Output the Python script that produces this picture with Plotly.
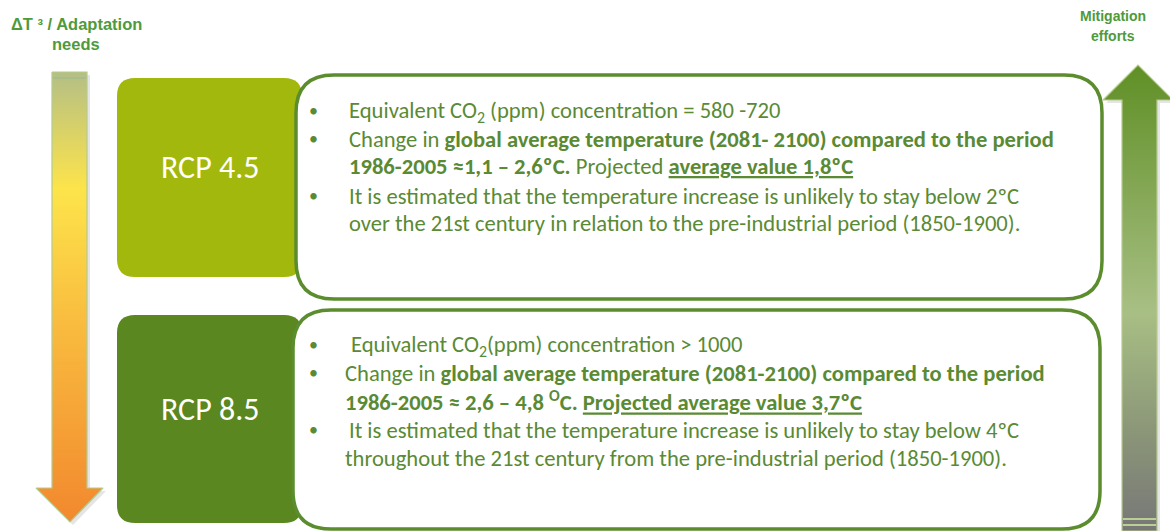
import plotly.graph_objects as go

# ---------------- data (text content) ----------------
header_left = ["ΔT ³ / Adaptation", "needs"]
header_right = ["Mitigation", "efforts"]
scenarios = ["RCP 4.5", "RCP 8.5"]

rcp45_lines = [
    "Equivalent CO<sub>2</sub> (ppm) concentration = 580 -720",
    "Change in <b>global average temperature (2081- 2100) compared to the period</b>",
    "<b>1986-2005 ≈1,1 – 2,6ºC.</b> Projected <b><u>average value 1,8ºC</u></b>",
    "It is estimated that the temperature increase is unlikely to stay below 2ºC",
    "over the 21st century in relation to the pre-industrial period (1850-1900).",
]
rcp45_bullets = [True, True, False, True, False]

rcp85_lines = [
    "Equivalent CO<sub>2</sub>(ppm) concentration > 1000",
    "Change in <b>global average temperature (2081-2100) compared to the period</b>",
    "<b>1986-2005 ≈ 2,6 – 4,8 <sup>O</sup>C.</b> <b><u>Projected average value 3,7ºC</u></b>",
    "It is estimated that the temperature increase is unlikely to stay below 4ºC",
    "throughout the 21st century from the pre-industrial period (1850-1900).",
]
rcp85_bullets = [True, True, False, True, False]

# ---------------- layout / style ----------------
W, H = 1170, 531
GREEN_TXT = "#5a8a34"
BORDER = "#5b8c2e"
HEAD_TXT = "#4f9a3a"
BOX_COLORS = ["#a3b80c", "#5a871f"]
BODY_FONT = "Carlito, Lato, sans-serif"
BODY_SIZE = 22.6

fig = go.Figure()


def rr(x0, y0, x1, y1, r):
    return (f"M{x0+r},{y0} L{x1-r},{y0} Q{x1},{y0} {x1},{y0+r} "
            f"L{x1},{y1-r} Q{x1},{y1} {x1-r},{y1} L{x0+r},{y1} "
            f"Q{x0},{y1} {x0},{y1-r} L{x0},{y0+r} Q{x0},{y0} {x0+r},{y0} Z")


# left arrow (down) : shadow + gradient body
la_x = [52, 87, 87, 103, 70, 36, 52, 52]
la_y = [72, 72, 488, 488, 522, 488, 488, 72]
fig.add_trace(go.Scatter(x=[v + 3 for v in la_x], y=[v + 3 for v in la_y], fill="toself",
                         mode="lines", line=dict(width=0), fillcolor="rgba(0,0,0,0.10)",
                         hoverinfo="skip", showlegend=False))
fig.add_trace(go.Scatter(
    x=la_x, y=la_y, fill="toself", mode="lines",
    line=dict(color="#b5cc8c", width=1.2),
    fillgradient=dict(type="vertical", start=72, stop=522,
                      colorscale=[[0, "#b4bf86"], [0.26, "#fde44b"], [0.55, "#f9bd3f"],
                                  [1, "#f2882e"]]),
    hoverinfo="skip", showlegend=False))
# faint band at top of the left arrow
fig.add_shape(type="line", x0=53, x1=86, y0=78, y1=78, line=dict(color="#a9bd8a", width=2))

# right arrow (up)
ra_x = [1122, 1122, 1103, 1138, 1173, 1157, 1157, 1122]
ra_y = [531, 100, 100, 65, 100, 100, 531, 531]
fig.add_trace(go.Scatter(x=[v + 3 for v in ra_x], y=[v + 3 for v in ra_y], fill="toself",
                         mode="lines", line=dict(width=0), fillcolor="rgba(0,0,0,0.10)",
                         hoverinfo="skip", showlegend=False))
fig.add_trace(go.Scatter(
    x=ra_x, y=ra_y, fill="toself", mode="lines",
    line=dict(color="#b5cc8c", width=1.2),
    fillgradient=dict(type="vertical", start=65, stop=531,
                      colorscale=[[0, "#5f8f25"], [0.53, "#a8bf84"], [0.8, "#8a9478"],
                                  [1, "#777777"]]),
    hoverinfo="skip", showlegend=False))

shapes = list(fig.layout.shapes)
# scenario boxes
box_y = [(78, 277), (315, 523)]
for (y0, y1), c in zip(box_y, BOX_COLORS):
    shapes.append(dict(type="path", path=rr(117, y0, 302, y1, 18), fillcolor=c,
                       line=dict(width=0), layer="above"))
# white info boxes
info_y = [(75, 299), (310, 529)]
info_x = [(296, 1102), (293, 1100)]
for (x0, x1), (y0, y1) in zip(info_x, info_y):
    shapes.append(dict(type="path", path=rr(x0, y0, x1, y1, 38), fillcolor="white",
                       line=dict(color=BORDER, width=3.5), layer="above"))
# bottom stripes of the right arrow
for yy in (519, 525):
    shapes.append(dict(type="line", x0=1123, x1=1156, y0=yy, y1=yy,
                       line=dict(color="#b9cf93", width=2)))

annotations = []
# headers
for i, t in enumerate(header_left):
    annotations.append(dict(x=76, y=24 + 20 * i, text=f"<b>{t}</b>", showarrow=False,
                            font=dict(family="Liberation Sans, Arial", size=16.5, color=HEAD_TXT),
                            xanchor="center", yanchor="middle"))
for i, t in enumerate(header_right):
    annotations.append(dict(x=1113, y=16 + 20 * i, text=f"<b>{t}</b>", showarrow=False,
                            font=dict(family="Liberation Sans, Arial", size=14, color=HEAD_TXT),
                            xanchor="center", yanchor="middle"))
# scenario labels
for name, (y0, y1) in zip(scenarios, box_y):
    annotations.append(dict(x=210, y=(y0 + y1) / 2 - 10, text=name, showarrow=False,
                            font=dict(family=BODY_FONT, size=32, color="white"),
                            xanchor="center", yanchor="middle"))

# body lines
line_y = [[111, 139, 166, 196, 223], [345, 373, 401, 430, 458]]
line_x = [[347, 347, 347, 347, 347], [349, 343, 343, 347, 343]]
for lines, bullets, ys, xs in zip([rcp45_lines, rcp85_lines], [rcp45_bullets, rcp85_bullets],
                                  line_y, line_x):
    for t, b, y, x in zip(lines, bullets, ys, xs):
        annotations.append(dict(x=x, y=y, text=t, showarrow=False,
                                font=dict(family=BODY_FONT, size=BODY_SIZE, color=GREEN_TXT),
                                xanchor="left", yanchor="middle"))
        if b:
            annotations.append(dict(x=313, y=y, text="•", showarrow=False,
                                    font=dict(family=BODY_FONT, size=18, color=GREEN_TXT),
                                    xanchor="center", yanchor="middle"))

fig.update_layout(
    width=W, height=H, margin=dict(l=0, r=0, t=0, b=0),
    paper_bgcolor="white", plot_bgcolor="white",
    xaxis=dict(range=[0, W], visible=False, fixedrange=True),
    yaxis=dict(range=[H, 0], visible=False, fixedrange=True),
    shapes=shapes, annotations=annotations, showlegend=False,
)

fig.write_html("out.html", config={"displayModeBar": False},
               post_script="document.body.style.margin='0';document.body.style.overflow='hidden';")
